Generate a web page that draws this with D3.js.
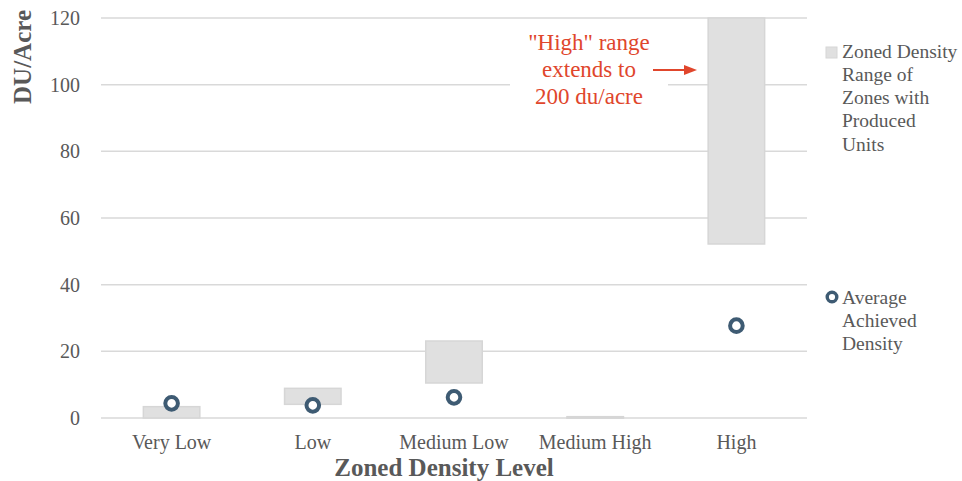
<!DOCTYPE html>
<html>
<head>
<meta charset="utf-8">
<script src="https://cdn.jsdelivr.net/npm/d3@7"></script>
<style>
  html, body { margin: 0; padding: 0; background: #fff; }
  svg { display: block; }
  text { font-family: "Liberation Serif", "DejaVu Serif", serif; }
</style>
</head>
<body>
<svg id="chart" width="962" height="481"></svg>
<script>
const categories = ["Very Low", "Low", "Medium Low", "Medium High", "High"];
const rangeMin = [0, 4.1, 10.5, 0, 52.2];
const rangeMax = [3.4, 8.9, 23.1, 0.4, 200];
const avgDensity = [4.4, 3.8, 6.2, null, 27.7];
const yTicks = [0, 20, 40, 60, 80, 100, 120];
const legendRange = ["Zoned Density", "Range of", "Zones with", "Produced", "Units"];
const legendAvg = ["Average", "Achieved", "Density"];
const noteLines = ["\"High\" range", "extends to", "200 du/acre"];

const svg = d3.select("#chart");
const textColor = "#595959";
const markColor = "#3e5b73";
const noteColor = "#e0462c";

const x = d3.scaleBand().domain(categories).range([101, 807]).paddingInner(0.6).paddingOuter(0.3);
const y = d3.scaleLinear().domain([0, 120]).range([418, 18]).clamp(true);
const cx = d => x(d) + x.bandwidth() / 2;

// gridlines
svg.append("g").selectAll("line").data(yTicks).join("line")
  .attr("x1", 101).attr("x2", 807)
  .attr("y1", d => y(d)).attr("y2", d => y(d))
  .attr("stroke", "#d9d9d9").attr("stroke-width", 1.5);

// y tick labels
svg.append("g").selectAll("text").data(yTicks).join("text")
  .attr("x", 80).attr("y", d => y(d)).attr("dy", "0.35em")
  .attr("text-anchor", "end").attr("font-size", 20).attr("fill", textColor)
  .text(d => d);

// x tick labels
svg.append("g").selectAll("text").data(categories).join("text")
  .attr("x", d => cx(d)).attr("y", 449)
  .attr("text-anchor", "middle").attr("font-size", 20).attr("fill", textColor)
  .text(d => d);

// range bars
svg.append("g").selectAll("rect").data(categories).join("rect")
  .attr("x", d => x(d))
  .attr("width", x.bandwidth())
  .attr("y", (d, i) => y(rangeMax[i]))
  .attr("height", (d, i) => Math.max(1.5, y(rangeMin[i]) - y(rangeMax[i])))
  .attr("fill", "#e0e0e0").attr("stroke", "#d6d6d6").attr("stroke-width", 1.5);

// average points
const pts = categories.map((c, i) => ({c, v: avgDensity[i]})).filter(p => p.v != null);
svg.append("g").selectAll("circle").data(pts).join("circle")
  .attr("cx", d => cx(d.c)).attr("cy", d => y(d.v)).attr("r", 6.3)
  .attr("fill", "#fff").attr("stroke", markColor).attr("stroke-width", 4);

// annotation
svg.append("rect").attr("x", 510).attr("y", 26).attr("width", 158).attr("height", 84).attr("fill", "#fff");
svg.append("g").selectAll("text").data(noteLines).join("text")
  .attr("x", 589).attr("y", (d, i) => 42 + i * 27).attr("dy", "0.35em")
  .attr("text-anchor", "middle").attr("font-size", 23).attr("fill", noteColor)
  .text(d => d);
svg.append("line").attr("x1", 653).attr("x2", 686).attr("y1", 70).attr("y2", 70)
  .attr("stroke", noteColor).attr("stroke-width", 2);
svg.append("path").attr("d", "M684,65 L697,70 L684,75 Z").attr("fill", noteColor);

// axis titles
svg.append("text").attr("x", 444).attr("y", 476).attr("text-anchor", "middle")
  .attr("font-size", 25).attr("font-weight", "bold").attr("fill", textColor)
  .text("Zoned Density Level");
svg.append("text").attr("transform", "translate(31,57) rotate(-90)")
  .attr("text-anchor", "middle").attr("font-size", 25).attr("font-weight", "bold").attr("fill", textColor)
  .text("DU/Acre");

// legend
const lg = svg.append("g");
lg.append("rect").attr("x", 826).attr("y", 47).attr("width", 11).attr("height", 11)
  .attr("fill", "#e0e0e0").attr("stroke", "#d6d6d6");
lg.selectAll("text.r").data(legendRange).join("text").attr("class", "r")
  .attr("x", 842).attr("y", (d, i) => 51 + i * 23.2).attr("dy", "0.35em")
  .attr("font-size", 19.5).attr("fill", textColor).text(d => d);
lg.append("circle").attr("cx", 832).attr("cy", 297).attr("r", 4.8)
  .attr("fill", "#fff").attr("stroke", markColor).attr("stroke-width", 3.4);
lg.selectAll("text.a").data(legendAvg).join("text").attr("class", "a")
  .attr("x", 842).attr("y", (d, i) => 297 + i * 23.2).attr("dy", "0.35em")
  .attr("font-size", 19.5).attr("fill", textColor).text(d => d);
</script>
</body>
</html>
